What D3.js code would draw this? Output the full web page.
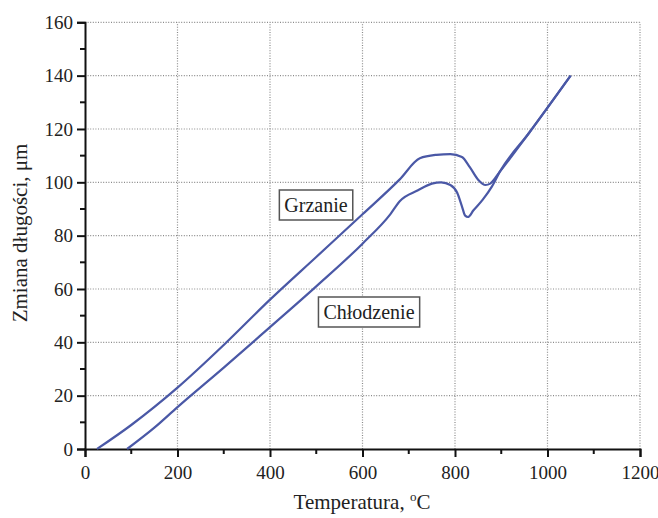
<!DOCTYPE html>
<html><head><meta charset="utf-8">
<script src="https://cdn.jsdelivr.net/npm/d3@7"></script>
<style>body{margin:0;background:#fff;} text{font-family:"Liberation Serif","Times New Roman",serif;}</style>
</head><body>
<svg id="c" width="658" height="518"></svg>
<script>
const xTicks = [0,200,400,600,800,1000,1200];
const yTicks = [0,20,40,60,80,100,120,140,160];
const grzanieT = [26,100,200,300,400,500,600,680,724,760,790,815,832,850,866,876,897,960,1050];
const grzanieV = [0,9,23,39,56,72,88,101,109,110.3,110.6,109.5,105.7,101,99,99.5,104,118.5,140];
const chlodzenieT = [91,150,200,300,400,500,600,660,681,720,750,770,790,805,815,822,828,840,860,880,897,960,1050];
const chlodzenieV = [0,8,15.7,30.5,45.7,61,77,88,93,97,99.5,100,99,96,91,87.5,87,89.5,93.5,98.5,104,118.5,140];

const svg = d3.select("#c");
const x = d3.scaleLinear().domain([0,1200]).range([85,640]);
const y = d3.scaleLinear().domain([0,160]).range([449,22.3]);

// grid
const grid = svg.append("g").attr("stroke","#8a8a8a").attr("stroke-width",1.2).attr("stroke-dasharray","1,1.6");
grid.selectAll(".gx").data(xTicks.slice(1)).join("line")
  .attr("x1",d=>x(d)).attr("x2",d=>x(d)).attr("y1",y(0)).attr("y2",y(160));
grid.selectAll(".gy").data(yTicks.slice(1)).join("line")
  .attr("x1",x(0)).attr("x2",x(1200)).attr("y1",d=>y(d)).attr("y2",d=>y(d));

// axes
const xAxis = d3.axisBottom(x).tickValues(xTicks).tickSize(8).tickPadding(5).tickFormat(d3.format("d"));
const gx = svg.append("g").attr("transform",`translate(0,${y(0)})`).call(xAxis);
gx.append("g").selectAll("line").data([100,300,500,700,900,1100]).join("line")
  .attr("x1",d=>x(d)).attr("x2",d=>x(d)).attr("y1",0).attr("y2",5).attr("stroke","#111").attr("stroke-width",2);
const yAxis = d3.axisLeft(y).tickValues(yTicks).tickSize(8).tickPadding(4);
const gy = svg.append("g").attr("transform",`translate(${x(0)},0)`).call(yAxis);
gy.append("g").selectAll("line").data([10,30,50,70,90,110,130,150]).join("line")
  .attr("x1",-5).attr("x2",0).attr("y1",d=>y(d)).attr("y2",d=>y(d)).attr("stroke","#111").attr("stroke-width",2);
[gx,gy].forEach(g=>{
  g.select(".domain").attr("stroke","#111").attr("stroke-width",2);
  g.selectAll(".tick line").attr("stroke","#111").attr("stroke-width",2);
  g.selectAll(".tick text").attr("font-family","Liberation Serif").attr("font-size",19).attr("fill","#222");
});
gx.selectAll(".tick text").attr("dy","0.9em");
gy.selectAll(".tick text").attr("dy","0.33em");

// lines
const line = d3.line().x(d=>x(d[0])).y(d=>y(d[1])).curve(d3.curveMonotoneX);
const series = [d3.zip(grzanieT,grzanieV), d3.zip(chlodzenieT,chlodzenieV)];
svg.append("g").selectAll("path").data(series).join("path")
  .attr("d",line).attr("fill","none").attr("stroke","#4a58a6").attr("stroke-width",2.2);

// labels
function box(cx, cy, txt){
  const g = svg.append("g");
  const t = g.append("text").attr("x",cx).attr("y",cy).attr("text-anchor","middle")
    .attr("dy","0.35em").attr("font-size",20).attr("fill","#222").text(txt);
  const b = t.node().getBBox();
  g.insert("rect","text").attr("x",b.x-5).attr("y",cy-15).attr("width",b.width+10).attr("height",30)
    .attr("fill","#fff").attr("stroke","#555").attr("stroke-width",1.5);
}
box(316,205,"Grzanie");
box(369,312,"Chłodzenie");

// axis titles
const xt = svg.append("text").attr("x",362).attr("y",509).attr("text-anchor","middle").attr("font-size",21).attr("fill","#222");
xt.append("tspan").text("Temperatura, ");
xt.append("tspan").attr("font-size",13).attr("dy",-8).text("o");
xt.append("tspan").attr("dy",8).text("C");
svg.append("text").attr("transform","translate(27,233) rotate(-90)").attr("text-anchor","middle")
  .attr("font-size",21).attr("fill","#222").text("Zmiana długości, μm");
</script>
</body></html>
